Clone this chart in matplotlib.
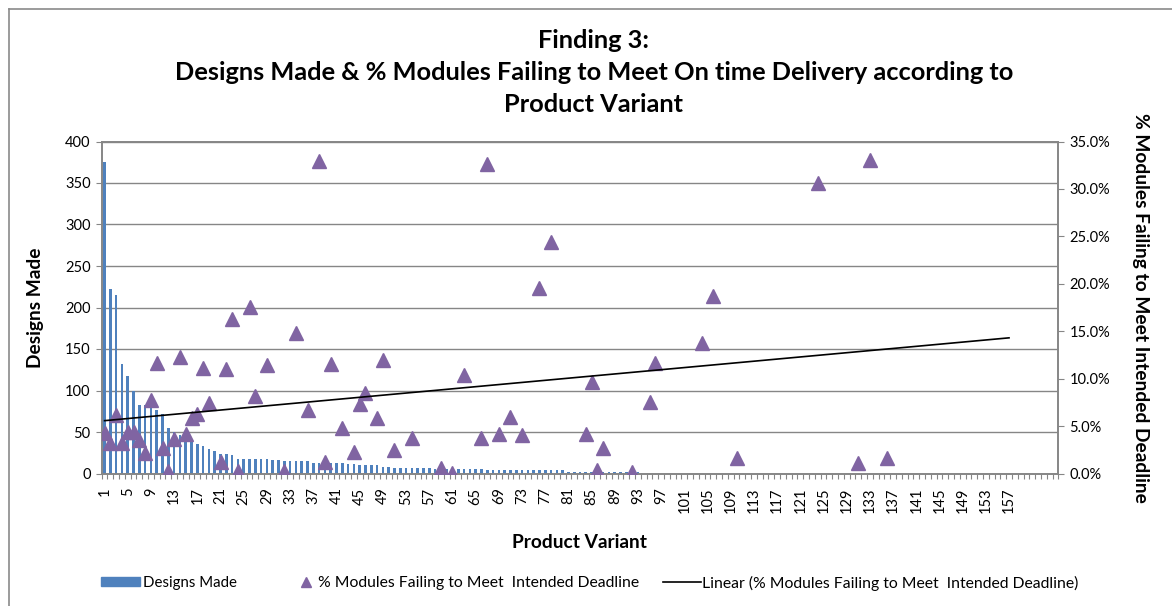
import numpy as np
import matplotlib
matplotlib.use("Agg")
import matplotlib.pyplot as plt
from matplotlib.lines import Line2D
from matplotlib.patches import Patch
from matplotlib.ticker import FuncFormatter, MultipleLocator, FixedLocator

plt.rcParams['font.family'] = ['Lato', 'DejaVu Sans']

# categories on the x axis (product variants 1..165, labels every 4 up to 157)
n_categories = 165
n_series = 157
tick_labels = [str(i) for i in range(1, 158, 4)]

# designs made per product variant (variants 1..93, rest have none)
designs = [375, 222, 215, 132, 118, 100, 83, 83, 79, 77,
           72, 55, 50, 46, 42, 38, 35, 33, 30, 27,
           24, 24, 22, 17, 17, 17, 17, 17, 17, 16,
           16, 15, 15, 15, 15, 15, 13, 13, 13, 13,
           13, 13, 11, 11, 10, 10, 10, 10, 8, 8,
           7, 7, 7, 7, 7, 7, 7, 6, 6, 6,
           6, 5, 5, 5, 5, 5, 4, 4, 4, 4,
           4, 4, 4, 4, 4, 4, 4, 4, 4, 4,
           2, 2, 2, 2, 2, 2, 2, 2, 2, 2, 2, 2, 2]

# % modules failing to meet intended deadline (variant, percent)
fail_variant = [1, 2, 3, 4, 5, 6, 7, 8, 9, 10,
                11, 12, 13, 14, 15, 16, 17, 18, 19, 21,
                22, 23, 24, 26, 27, 29, 32, 34, 36, 38,
                39, 40, 42, 44, 45, 46, 48, 49, 51, 54,
                59, 61, 63, 66, 67, 69, 71, 73, 76, 78,
                84, 85, 86, 87, 92, 95, 96, 104, 106, 110,
                124, 131, 133, 136]
fail_pct = [4.3, 3.2, 6.2, 3.2, 4.4, 4.4, 3.5, 2.2, 7.8, 11.6,
            2.7, 0.25, 3.6, 12.3, 4.2, 5.9, 6.3, 11.1, 7.4, 1.2,
            11.0, 16.3, 0.3, 17.6, 8.2, 11.4, 0.25, 14.8, 6.7, 32.9,
            1.2, 11.5, 4.8, 2.25, 7.3, 8.5, 5.8, 12.0, 2.5, 3.7,
            0.6, 0.1, 10.4, 3.7, 32.6, 4.2, 6.0, 4.1, 19.6, 24.4,
            4.2, 9.6, 0.4, 2.7, 0.15, 7.5, 11.6, 13.8, 18.7, 1.65,
            30.6, 1.1, 33.0, 1.65]

bar_color = '#4F81BD'
tri_color = '#8064A2'
axis_gray = '#868686'

fig = plt.figure(figsize=(11.72, 6.06), dpi=100)
ax = fig.add_axes([101.7 / 1172, 1 - 473.5 / 606, 956.6 / 1172, 332 / 606])

x_bars = np.arange(1, len(designs) + 1)
ax.bar(x_bars, designs, width=0.45, color=bar_color, zorder=2)
ax.set_xlim(0.5, n_categories + 0.5)
ax.set_ylim(0, 400)
ax.yaxis.set_major_locator(MultipleLocator(50))
ax.grid(axis='y', color=axis_gray, linewidth=1.0, zorder=0)
ax.set_axisbelow(True)

ax.xaxis.set_major_locator(FixedLocator(range(1, 158, 4)))
ax.set_xticklabels(tick_labels, rotation=90)
ax.xaxis.set_minor_locator(FixedLocator(np.arange(0.5, n_categories + 1, 1)))
ax.tick_params(axis='x', which='major', length=0, pad=10, labelsize=10.5)
ax.tick_params(axis='x', which='minor', length=3.5, color=axis_gray, width=0.8)
ax.tick_params(axis='y', length=4, color=axis_gray, labelsize=10.5, pad=4)

for s in ax.spines.values():
    s.set_color(axis_gray)
    s.set_linewidth(1.2)

ax2 = ax.twinx()
fx = np.array(fail_variant)
fy = np.array(fail_pct) / 100
ax2.plot(fx, fy, linestyle='none', marker='^', markersize=9.5,
         color=tri_color, zorder=3)
coef = np.polyfit(fx, fy, 1)
tx = np.array([1, n_series])
ax2.plot(tx, np.polyval(coef, tx), color='black', linewidth=1.2, zorder=4)
ax2.set_ylim(0, 0.35)
ax2.yaxis.set_major_locator(MultipleLocator(0.05))
ax2.yaxis.set_major_formatter(FuncFormatter(lambda v, p: f"{v * 100:.1f}%"))
ax2.tick_params(axis='y', length=4, color=axis_gray, labelsize=10.5, pad=4)
for s in ax2.spines.values():
    s.set_color(axis_gray)
    s.set_linewidth(1.2)

# titles and axis labels
title_kw = dict(ha='center', va='center', fontsize=18.3, fontweight='bold')
fig.text(594 / 1172, 1 - 40 / 606, "Finding 3:", **title_kw)
fig.text(594 / 1172, 1 - 73 / 606,
         "Designs Made & % Modules Failing to Meet On time Delivery according to",
         **title_kw)
fig.text(594 / 1172, 1 - 104 / 606, "Product Variant", **title_kw)
fig.text(35 / 1172, 1 - 308 / 606, "Designs Made", rotation=90, ha='center',
         va='center', fontsize=13.8, fontweight='bold')
fig.text(1141 / 1172, 1 - 308 / 606, "% Modules Failing to Meet Intended Deadline",
         rotation=-90, ha='center', va='center', fontsize=13.8, fontweight='bold')
fig.text(580 / 1172, 1 - 543 / 606, "Product Variant", ha='center', va='center',
         fontsize=13.8, fontweight='bold')

# legend, three separate entries like the Excel layout
leg_y = 1 - 583 / 606
common = dict(loc='center left', frameon=False, borderpad=0, borderaxespad=0)
fig.legend([Patch(color=bar_color)], ["Designs Made"],
           bbox_to_anchor=(101 / 1172, leg_y), handlelength=2.6,
           handleheight=0.55, handletextpad=0.2, fontsize=10.8, **common)
fig.legend([Line2D([], [], linestyle='none', marker='^', markersize=7,
                   color=tri_color)],
           ["% Modules Failing to Meet  Intended Deadline"],
           bbox_to_anchor=(298 / 1172, leg_y), handlelength=1.0,
           handletextpad=0.3, fontsize=11.3, **common)
fig.legend([Line2D([], [], color='black', linewidth=1.2)],
           ["Linear (% Modules Failing to Meet  Intended Deadline)"],
           bbox_to_anchor=(663 / 1172, leg_y), handlelength=2.4,
           handletextpad=0.1, fontsize=11.3, **common)

# chart area border (left and top edges visible)
fig.add_artist(Line2D([9 / 1172, 9 / 1172], [0, 1 - 9 / 606],
                      transform=fig.transFigure, color='#8a8a8a', linewidth=1.2))
fig.add_artist(Line2D([9 / 1172, 1], [1 - 9 / 606, 1 - 9 / 606],
                      transform=fig.transFigure, color='#8a8a8a', linewidth=1.2))

fig.savefig("out.png", dpi=100)
